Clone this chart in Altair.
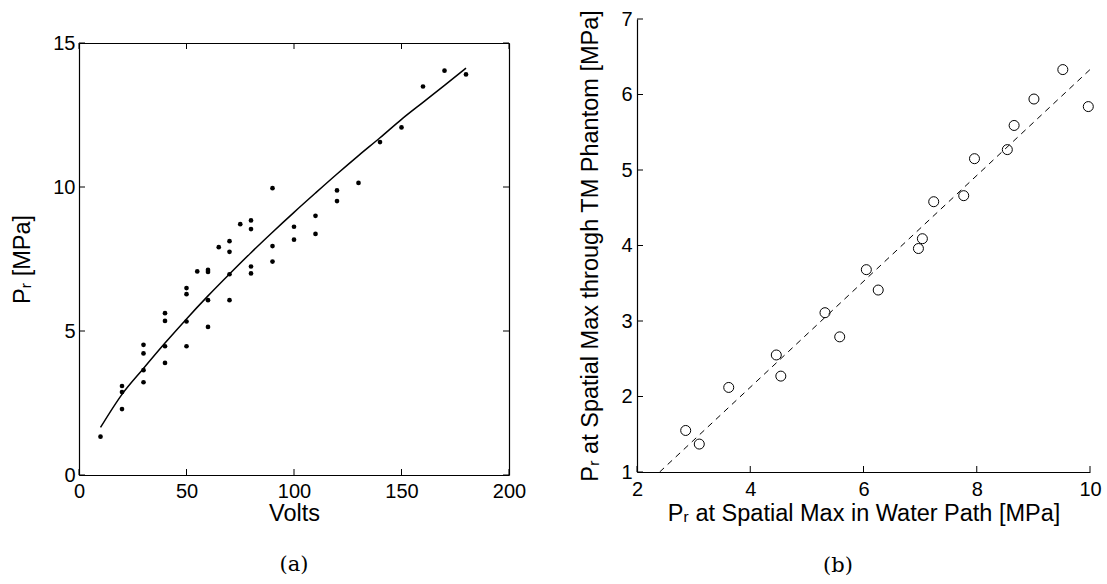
import altair as alt
import pandas as pd

# ---------------- data: panel (a) ----------------
volts = [10, 20, 20, 20, 30, 30, 30, 30, 40, 40, 40, 40, 50, 50, 50, 50, 55,
         60, 60, 60, 60, 65, 70, 70, 70, 70, 75, 80, 80, 80, 80, 90, 90, 90,
         100, 100, 110, 110, 120, 120, 130, 140, 150, 160, 170, 180]
pr = [1.33, 3.09, 2.88, 2.29, 4.52, 4.22, 3.64, 3.22, 5.62, 5.35, 4.47, 3.89,
      6.49, 6.28, 5.33, 4.47, 7.07, 7.12, 7.05, 6.07, 5.14, 7.91, 8.12, 7.75,
      6.97, 6.07, 8.71, 8.84, 8.54, 7.24, 7.00, 9.96, 7.95, 7.41, 8.62, 8.17,
      9.00, 8.37, 9.88, 9.51, 10.14, 11.56, 12.07, 13.49, 14.04, 13.91]
fit_v = [10, 20, 30, 40, 50, 60, 70, 80, 90, 100, 110, 120, 130, 140, 150,
         160, 170, 180]
fit_p = [1.65, 2.80, 3.70, 4.58, 5.42, 6.22, 6.98, 7.72, 8.43, 9.12, 9.79,
         10.45, 11.09, 11.71, 12.35, 12.94, 13.53, 14.13]
a_xticks = [0, 50, 100, 150, 200]
a_yticks = [0, 5, 10, 15]

# ---------------- data: panel (b) ----------------
water = [2.86, 3.10, 3.62, 4.46, 4.54, 5.32, 5.58, 6.05, 6.26, 6.97, 7.04,
         7.24, 7.77, 7.96, 8.54, 8.66, 9.01, 9.52, 9.97]
phantom = [1.55, 1.37, 2.12, 2.55, 2.27, 3.11, 2.79, 3.68, 3.41, 3.96, 4.09,
           4.58, 4.66, 5.15, 5.27, 5.59, 5.94, 6.33, 5.84]
dash_x = [2.40, 10.0]
dash_y = [1.0, 6.33]
b_xticks = [2, 4, 6, 8, 10]
b_yticks = [1, 2, 3, 4, 5, 6, 7]

FONT = "Liberation Sans"
SERIF = "DejaVu Serif"
LBL = 20
TTL = 23.5
TK = 6
WA, HA = 430, 432
WB, HB = 453, 453

# ---------------- panel (a) ----------------
sa_x = alt.Scale(domain=[0, 200], nice=False, zero=False)
sa_y = alt.Scale(domain=[0, 15], nice=False, zero=False)

df_a = pd.DataFrame({"v": volts, "p": pr})
df_fit = pd.DataFrame({"v": fit_v, "p": fit_p})

pts_a = alt.Chart(df_a).mark_circle(size=22, color="black", opacity=1).encode(
    x=alt.X("v:Q", scale=sa_x,
            axis=alt.Axis(values=a_xticks, title="Volts", orient="bottom",
                          labelPadding=6, titlePadding=0)),
    y=alt.Y("p:Q", scale=sa_y,
            axis=alt.Axis(values=a_yticks, title="Pᵣ [MPa]", orient="left",
                          labelPadding=4, titlePadding=18)),
)
fit_a = alt.Chart(df_fit).mark_line(color="black", strokeWidth=1.5,
                                    interpolate="monotone").encode(
    x=alt.X("v:Q", scale=sa_x,
            axis=alt.Axis(orient="top", labels=False, title=None,
                          minExtent=0, maxExtent=0)),
    y=alt.Y("p:Q", scale=sa_y,
            axis=alt.Axis(orient="right", labels=False, title=None,
                          minExtent=0, maxExtent=0)),
)
axt = pd.DataFrame({"t": a_xticks})
ayt = pd.DataFrame({"t": a_yticks})
tk_a = [
    alt.Chart(axt).mark_rule(color="black").encode(
        x=alt.X("t:Q", scale=sa_x, axis=None), y=alt.value(HA), y2=alt.value(HA - TK)),
    alt.Chart(axt).mark_rule(color="black").encode(
        x=alt.X("t:Q", scale=sa_x, axis=None), y=alt.value(0), y2=alt.value(TK)),
    alt.Chart(ayt).mark_rule(color="black").encode(
        y=alt.Y("t:Q", scale=sa_y, axis=None), x=alt.value(0), x2=alt.value(TK)),
    alt.Chart(ayt).mark_rule(color="black").encode(
        y=alt.Y("t:Q", scale=sa_y, axis=None), x=alt.value(WA), x2=alt.value(WA - TK)),
]
cap_a = alt.Chart(pd.DataFrame({"c": ["(a)"]})).mark_text(
    font=SERIF, fontSize=21, color="black").encode(
    text="c:N", x=alt.value(WA / 2), y=alt.value(522))

panel_a = alt.layer(pts_a, fit_a, *tk_a, cap_a).resolve_axis(
    x="independent", y="independent").properties(width=WA, height=HA)

# invisible spacer that pushes panel (a) down relative to panel (b)
spacer = alt.Chart(pd.DataFrame({"z": [0]})).mark_point(opacity=0).encode(
    x=alt.value(0), y=alt.value(0)).properties(width=WA, height=1)

col_a = alt.vconcat(spacer, panel_a, spacing=11)

# ---------------- panel (b) ----------------
sb_x = alt.Scale(domain=[2, 10], nice=False, zero=False)
sb_y = alt.Scale(domain=[1, 7], nice=False, zero=False)

df_b = pd.DataFrame({"w": water, "ph": phantom})
df_d = pd.DataFrame({"w": dash_x, "ph": dash_y})

pts_b = alt.Chart(df_b).mark_point(size=100, color="black", filled=False,
                                   strokeWidth=1, opacity=1).encode(
    x=alt.X("w:Q", scale=sb_x,
            axis=alt.Axis(values=b_xticks,
                          title="Pᵣ at Spatial Max in Water Path [MPa]",
                          labelPadding=7, titlePadding=2)),
    y=alt.Y("ph:Q", scale=sb_y,
            axis=alt.Axis(values=b_yticks,
                          title="Pᵣ at Spatial Max through TM Phantom [MPa]",
                          labelPadding=5, titlePadding=18)),
)
line_b = alt.Chart(df_d).mark_line(color="black", strokeWidth=1,
                                   strokeDash=[6, 5]).encode(
    x=alt.X("w:Q", scale=sb_x, axis=None),
    y=alt.Y("ph:Q", scale=sb_y, axis=None),
)
bxt = pd.DataFrame({"t": b_xticks})
byt = pd.DataFrame({"t": b_yticks})
tk_b = [
    alt.Chart(bxt).mark_rule(color="black").encode(
        x=alt.X("t:Q", scale=sb_x, axis=None), y=alt.value(HB), y2=alt.value(HB - TK)),
    alt.Chart(byt).mark_rule(color="black").encode(
        y=alt.Y("t:Q", scale=sb_y, axis=None), x=alt.value(0), x2=alt.value(TK)),
]
cap_b = alt.Chart(pd.DataFrame({"c": ["(b)"]})).mark_text(
    font=SERIF, fontSize=21, color="black").encode(
    text="c:N", x=alt.value(201), y=alt.value(547))

panel_b = alt.layer(pts_b, line_b, *tk_b, cap_b).resolve_axis(
    x="independent", y="independent").properties(width=WB, height=HB)

chart = alt.hconcat(col_a, panel_b, spacing=52).properties(
    padding={"left": 10, "top": 9, "right": 5, "bottom": 5},
    background="white",
).configure_view(stroke=None).configure_axis(
    grid=False, ticks=False, domainColor="black", domainWidth=1.2,
    labelFont=FONT, labelFontSize=LBL, labelColor="black",
    labelFlush=False, labelOverlap=False,
    titleFont=FONT, titleFontSize=TTL, titleFontWeight="normal", titleColor="black",
)

chart.save("out.html", embed_options={"renderer": "svg", "actions": False})
